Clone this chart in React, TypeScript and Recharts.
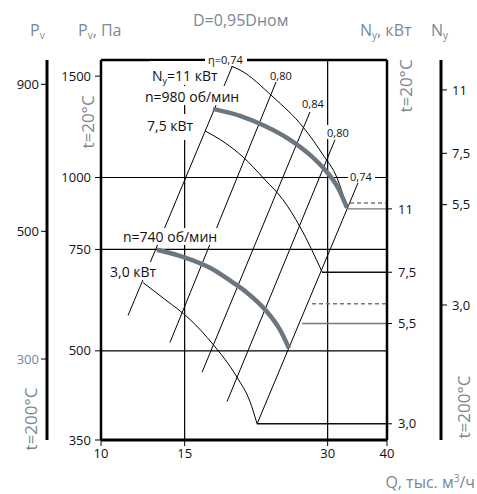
import React from 'react';
import { ComposedChart, Line, XAxis, YAxis, ReferenceLine } from 'recharts';

// Q, тыс. м3/ч  /  Pv, Па  (log-log chart)
const qTicks = [10, 15, 30, 40];
const pTicks = [350, 500, 750, 1000, 1500];
const p200Ticks = [300, 500, 900];
const nTicks = [3.0, 5.5, 7.5, 11];
const qGrid = [15, 30];
const pGrid = [500, 750, 1000];

// fan curves
const n980 = [
  { q: 17.21, p: 1316 }, { q: 19.62, p: 1280 }, { q: 22.14, p: 1229 }, { q: 25.0, p: 1163 },
  { q: 27.54, p: 1095 }, { q: 29.62, p: 1031 }, { q: 31.54, p: 960 }, { q: 32.95, p: 886 },
];
const n740 = [
  { q: 13.12, p: 749 }, { q: 15.03, p: 726 }, { q: 16.96, p: 697 }, { q: 18.96, p: 657 },
  { q: 20.29, p: 631 }, { q: 22.14, p: 590 }, { q: 23.81, p: 544 }, { q: 24.88, p: 505 },
];

// power lines Ny
const pw11 = [
  { q: 18.78, p: 1562 }, { q: 19.62, p: 1537 }, { q: 23.02, p: 1380 }, { q: 26.62, p: 1224 },
  { q: 29.33, p: 1095 }, { q: 31.39, p: 999 }, { q: 32.95, p: 886 },
];
const pw75 = [
  { q: 16.56, p: 1205 }, { q: 18.24, p: 1149 }, { q: 19.9, p: 1086 }, { q: 22.14, p: 991 },
  { q: 24.16, p: 915 }, { q: 26.24, p: 821 }, { q: 29.19, p: 686 },
];
const pw30 = [
  { q: 12.26, p: 657 }, { q: 13.64, p: 614 }, { q: 15.39, p: 567 }, { q: 17.21, p: 513 },
  { q: 19.33, p: 450 }, { q: 20.59, p: 408 }, { q: 21.3, p: 374 },
];

// efficiency lines (η)
const etaA = [{ q: 11.4, p: 576 }, { q: 18.87, p: 1556 }];
const etaB = [{ q: 13.97, p: 517 }, { q: 23.36, p: 1465 }];
const etaC = [{ q: 16.32, p: 459 }, { q: 27.54, p: 1300 }];
const etaD = [{ q: 18.42, p: 408 }, { q: 31.09, p: 1163 }];
const etaE = [{ q: 21.3, p: 373 }, { q: 34.76, p: 979 }];

// leaders to the Ny scale
const leaderN = [11, 7.5, 5.5, 3.0];
const leaderFrom = [32.95, 29.19, 26.49, 21.3];
const dashN = [11.4, 6.2];
const dashFrom = [33.43, 27.81];

const GREY = '#7b8794';
const CURVE = '#6c7680';
const FONT = "'Open Sans', sans-serif";

const fmtN = (v: number) => (v >= 10 ? String(v) : v.toFixed(1).replace('.', ','));

function P200Tick(props: any) {
  const { x, y, payload } = props;
  return (
    <text x={x} y={y} dy="0.35em" textAnchor="end" fontSize={13} fill={payload.value === 300 ? GREY : '#111'}>
      {payload.value}
    </text>
  );
}

const leaderColors = ['#777', '#111', '#777', '#111'];

export default function App() {
  const tick = { fill: '#111', fontSize: 13 };
  const thin = { stroke: '#000', strokeWidth: 1 };
  return (
    <div style={{ position: 'relative', width: 477, height: 494, fontFamily: FONT, background: '#fff' }}>
      <style>{'body{margin:0}'}</style>
      <ComposedChart width={477} height={494} margin={{ top: 60, right: 0, bottom: 24, left: 0 }}>
        <XAxis
          dataKey="q"
          type="number"
          scale="log"
          domain={[10, 40]}
          ticks={qTicks}
          allowDataOverflow
          height={30}
          tickMargin={3}
          tick={tick}
          tickLine={{ stroke: '#000' }}
          axisLine={{ stroke: '#000', strokeWidth: 3 }}
        />
        <YAxis
          yAxisId="p"
          type="number"
          scale="log"
          domain={[350, 1600]}
          ticks={pTicks}
          allowDataOverflow
          width={54}
          tickMargin={4}
          tick={tick}
          tickLine={{ stroke: '#000' }}
          axisLine={{ stroke: '#000', strokeWidth: 2.5 }}
        />
        <YAxis
          yAxisId="p200"
          type="number"
          scale="log"
          domain={[217, 992]}
          ticks={p200Ticks}
          allowDataOverflow
          width={47}
          tick={<P200Tick />}
          tickLine={{ stroke: '#000' }}
          axisLine={{ stroke: '#000', strokeWidth: 3 }}
        />
        <YAxis
          yAxisId="ni"
          orientation="right"
          type="number"
          scale="log"
          domain={[2.72, 27.06]}
          ticks={nTicks}
          allowDataOverflow
          width={54}
          tickSize={5}
          tickMargin={6}
          tickFormatter={fmtN}
          tick={tick}
          tickLine={{ stroke: '#000' }}
          axisLine={{ stroke: '#000', strokeWidth: 2.5 }}
        />
        <YAxis
          yAxisId="no"
          orientation="right"
          type="number"
          scale="log"
          domain={[1.327, 13.18]}
          ticks={nTicks}
          allowDataOverflow
          width={36}
          tickMargin={5}
          tickFormatter={fmtN}
          tick={tick}
          tickLine={{ stroke: '#000' }}
          axisLine={{ stroke: '#000', strokeWidth: 3 }}
        />

        <ReferenceLine yAxisId="p" y={1600} stroke="#000" strokeWidth={2.5} ifOverflow="extendDomain" />
        {qGrid.map((q) => (
          <ReferenceLine key={'qx' + q} yAxisId="p" x={q} stroke="#000" strokeWidth={1.2} />
        ))}
        {pGrid.map((p) => (
          <ReferenceLine key={'py' + p} yAxisId="p" y={p} stroke="#000" strokeWidth={1.2} />
        ))}

        {[etaA, etaB, etaC, etaD, etaE].map((d, i) => (
          <Line key={'eta' + i} yAxisId="p" data={d} dataKey="p" type="linear" {...thin} dot={false} activeDot={false} isAnimationActive={false} />
        ))}
        {[pw11, pw75, pw30].map((d, i) => (
          <Line key={'pw' + i} yAxisId="p" data={d} dataKey="p" type="monotone" {...thin} dot={false} activeDot={false} isAnimationActive={false} />
        ))}

        {leaderN.map((n, i) => (
          <Line
            key={'ld' + n}
            yAxisId="ni"
            data={[{ q: leaderFrom[i], n }, { q: 40, n }]}
            dataKey="n"
            stroke={leaderColors[i]}
            strokeWidth={1.4}
            dot={false}
            activeDot={false}
            isAnimationActive={false}
          />
        ))}
        {dashN.map((n, i) => (
          <Line
            key={'dl' + n}
            yAxisId="ni"
            data={[{ q: dashFrom[i], n }, { q: 40, n }]}
            dataKey="n"
            stroke="#777"
            strokeWidth={1.5}
            strokeDasharray="4 3"
            dot={false}
            activeDot={false}
            isAnimationActive={false}
          />
        ))}

        <Line yAxisId="p" data={n980} dataKey="p" type="monotone" stroke={CURVE} strokeWidth={4.5} dot={false} activeDot={false} isAnimationActive={false} />
        <Line yAxisId="p" data={n740} dataKey="p" type="monotone" stroke={CURVE} strokeWidth={4.5} dot={false} activeDot={false} isAnimationActive={false} />
      </ComposedChart>

      <svg width={477} height={494} style={{ position: 'absolute', left: 0, top: 0, pointerEvents: 'none' }} fontFamily={FONT}>
        {/* header */}
        <text x={30} y={36} fontSize={16} fill={GREY}>P<tspan fontSize={10} dy={3}>v</tspan></text>
        <text x={78} y={36} fontSize={16} fill={GREY}>P<tspan fontSize={10} dy={3}>v</tspan><tspan dy={-3}>, Па</tspan></text>
        <text x={193} y={26} fontSize={16} fill={GREY}>D=0,95Dном</text>
        <text x={360} y={36} fontSize={16} fill={GREY}>N<tspan fontSize={10} dy={3}>y</tspan><tspan dy={-3}>, кВт</tspan></text>
        <text x={431} y={36} fontSize={16} fill={GREY}>N<tspan fontSize={10} dy={3}>y</tspan></text>

        {/* temperature captions */}
        <text transform="translate(87,122) rotate(-90)" textAnchor="middle" dominantBaseline="central" fontSize={17} fill={GREY}>t=20°C</text>
        <text transform="translate(405,86) rotate(-90)" textAnchor="middle" dominantBaseline="central" fontSize={17} fill={GREY}>t=20°C</text>
        <text transform="translate(30,419) rotate(-90)" textAnchor="middle" dominantBaseline="central" fontSize={17} fill={GREY}>t=200°C</text>
        <text transform="translate(463,407) rotate(-90)" textAnchor="middle" dominantBaseline="central" fontSize={17} fill={GREY}>t=200°C</text>

        <text x={475} y={488} textAnchor="end" fontSize={16} fill={GREY}>Q, тыс. м<tspan fontSize={10} dy={-6}>3</tspan><tspan dy={6}>/ч</tspan></text>

        {/* label backgrounds */}
        <rect x={205} y={54} width={42} height={12} fill="#fff" />
        <rect x={150} y={61} width={70} height={24} fill="#fff" />
        <rect x={142} y={86} width={104} height={19} fill="#fff" />
        <rect x={144} y={114} width={52} height={26} fill="#fff" />
        <rect x={325} y={125} width={25} height={14} fill="#fff" />
        <rect x={348} y={170} width={27} height={12} fill="#fff" />
        <rect x={120} y={228} width={101} height={17} fill="#fff" />
        <rect x={107} y={262} width={54} height={18} fill="#fff" />

        {/* labels */}
        <g fontSize={14} fill="#111">
          <text x={152} y={81}>N<tspan fontSize={9} dy={3}>y</tspan><tspan dy={-3}>=11 кВт</tspan></text>
          <text x={145} y={102}>n=980 об/мин</text>
          <text x={147} y={131}>7,5 кВт</text>
          <text x={123} y={242}>n=740 об/мин</text>
          <text x={110} y={277}>3,0 кВт</text>
        </g>
        <g fontSize={11} fill="#111">
          <text x={208} y={64}>η=0,74</text>
          <text x={270} y={80}>0,80</text>
          <text x={302} y={108}>0,84</text>
          <text x={327} y={137}>0,80</text>
          <text x={350} y={181}>0,74</text>
        </g>
      </svg>
    </div>
  );
}
